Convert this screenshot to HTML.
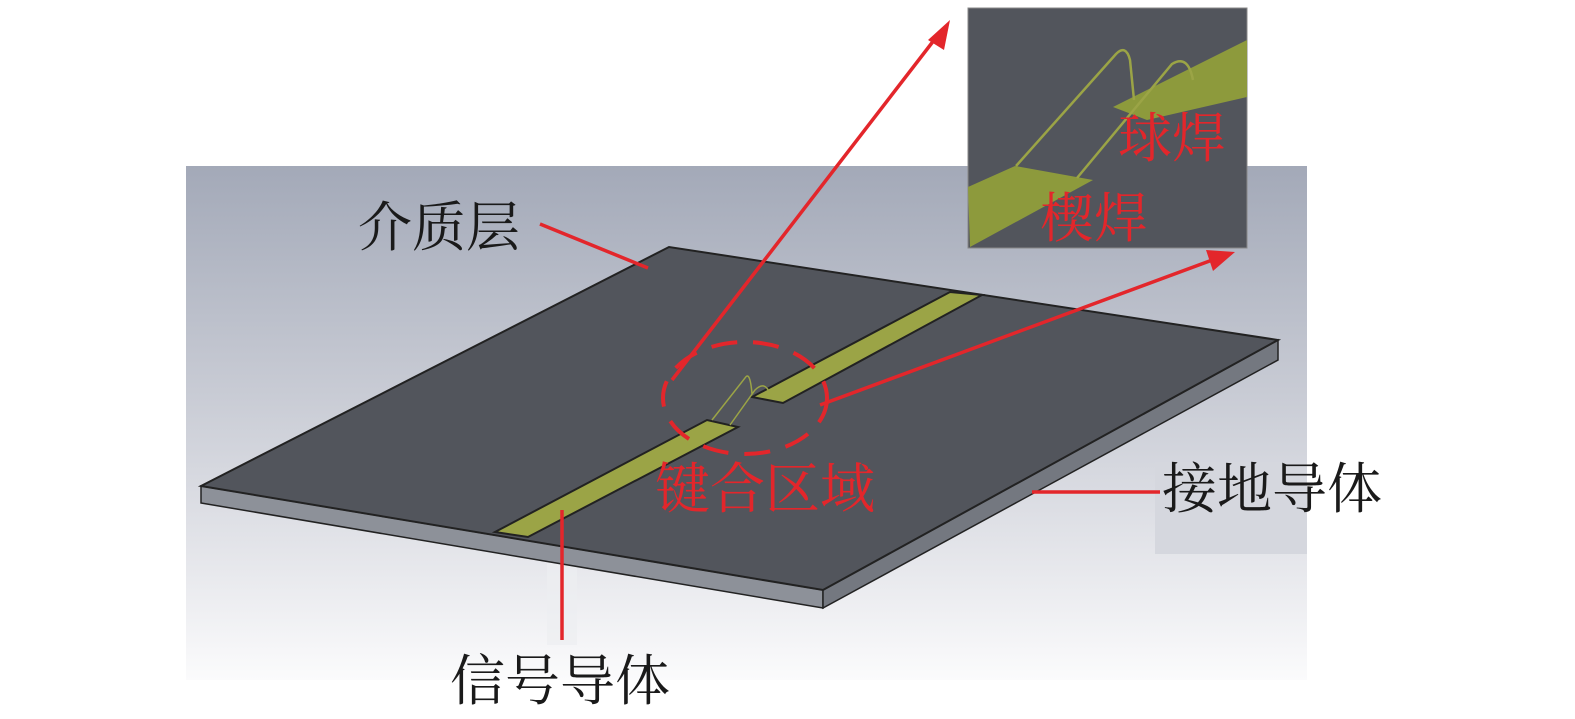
<!DOCTYPE html>
<html><head><meta charset="utf-8"><style>
html,body{margin:0;padding:0;background:#fff}
svg{display:block}
text{font-family:"Liberation Serif","Noto Serif CJK SC",serif}
</style></head><body>
<svg width="1575" height="719" viewBox="0 0 1575 719" xmlns="http://www.w3.org/2000/svg">
<defs>
<linearGradient id="bg" x1="0" y1="0" x2="0" y2="1">
<stop offset="0" stop-color="#a3a9b8"/>
<stop offset="0.45" stop-color="#c9ccd5"/>
<stop offset="0.75" stop-color="#e4e5ea"/>
<stop offset="1" stop-color="#fbfbfc"/>
</linearGradient>
</defs>
<rect x="186" y="166" width="1121" height="514" fill="url(#bg)"/>
<rect x="1155" y="462" width="152" height="92" fill="#d5d7de"/>
<rect x="547" y="545" width="30" height="100" fill="#eceef1" opacity="0.7"/>
<!-- board -->
<polygon points="201,486 823,590 823,608 201,503" fill="#8d9199" stroke="#222" stroke-width="1.5"/>
<polygon points="823,590 1278,340 1278,360 823,608" fill="#747880" stroke="#222" stroke-width="1.5"/>
<polygon points="201,486 669,247 1278,340 823,590" fill="#52555c" stroke="#222" stroke-width="2"/>
<!-- strip -->
<polygon points="495,532 528,537 738,427 707,420" fill="#9ba446" stroke="#222" stroke-width="2"/>
<polygon points="752,397 783,403 982,295 950,292" fill="#9ba446" stroke="#222" stroke-width="2"/>
<path d="M712,420 L745,378 Q750,370 752,394 M730,425 L755,390 Q765,380 770,394" stroke="#9ba446" stroke-width="1.5" fill="none"/>
<!-- ellipse -->
<ellipse cx="745" cy="398" rx="82" ry="56" fill="none" stroke="#e3262b" stroke-width="4" stroke-dasharray="26,16"/>
<!-- inset -->
<rect x="968" y="8" width="279" height="240" fill="#52555c" stroke="#888" stroke-width="1"/>
<polygon points="968,187 1015,166 1093,180 970,247" fill="#8d9a3c"/>
<polygon points="1113,107 1247,40 1247,97 1147,120" fill="#8d9a3c"/>
<path d="M1016,166 L1116,54 Q1126,44 1130,60 L1134,100 M1077,178 L1172,64 Q1188,54 1193,80" stroke="#9ba446" stroke-width="2.5" fill="none"/>
<!-- arrows -->
<g stroke="#e3262b" stroke-width="3.5" fill="#e3262b">
<line x1="672" y1="380" x2="938" y2="35"/>
<line x1="820" y1="405" x2="1215" y2="259"/>
<line x1="540" y1="224" x2="648" y2="268"/>
<line x1="1032" y1="492" x2="1160" y2="492"/>
<line x1="562" y1="510" x2="562" y2="640"/>
</g>
<polygon points="950,20 928,40 944,50" fill="#e3262b"/>
<polygon points="1235,252 1206,250 1213,271" fill="#e3262b"/>
<!-- labels -->
<text x="358" y="246" font-size="54" fill="#1a1a1a">介质层</text>
<text x="655" y="508" font-size="55" fill="#e3262b">键合区域</text>
<text x="1162" y="508" font-size="55" fill="#1a1a1a">接地导体</text>
<text x="450" y="700" font-size="55" fill="#1a1a1a">信号导体</text>
<text x="1118" y="157" font-size="54" fill="#e3262b">球焊</text>
<text x="1040" y="237" font-size="54" fill="#e3262b">楔焊</text>
</svg>
</body></html>
